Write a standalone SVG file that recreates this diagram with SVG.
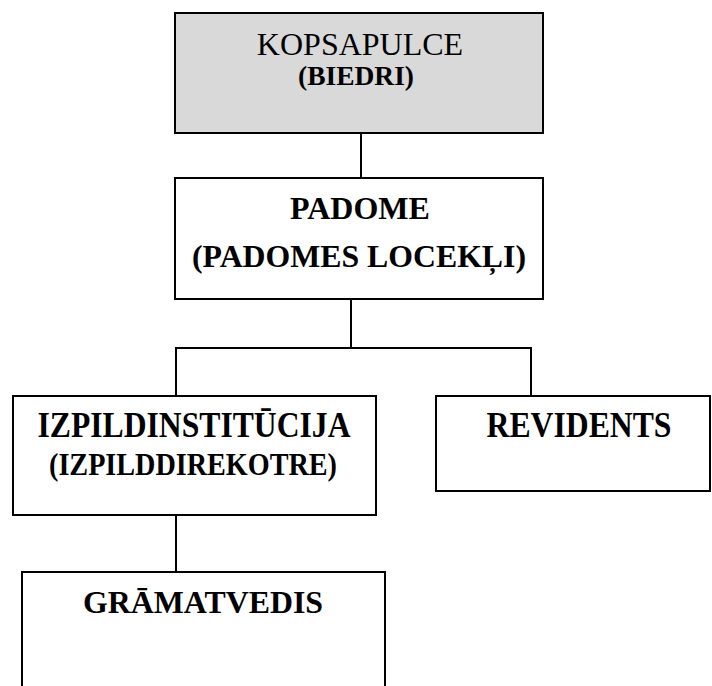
<svg xmlns="http://www.w3.org/2000/svg" width="712" height="686" viewBox="0 0 712 686">
<style>
.box{fill:#ffffff;stroke:#000000;stroke-width:2}
.gray{fill:#d9d9d9}
text{font-family:'Liberation Serif','Times New Roman','DejaVu Serif',serif;fill:#000000;text-anchor:middle}
.b{font-weight:bold}
.c{fill:none;stroke:#000000;stroke-width:2}
</style>
<rect width="712" height="686" fill="#ffffff"/>
<g id="connectors">
<line class="c" x1="361" y1="133" x2="361" y2="178"/>
<polyline class="c" points="351,299 351,348"/>
<polyline class="c" points="176,396 176,348 531,348 531,396"/>
<line class="c" x1="176" y1="515" x2="176" y2="572"/>
</g>
<g id="kopsapulce">
<rect class="box gray" x="175" y="13" width="368" height="120"/>
<text x="360" y="55" font-size="32">KOPSAPULCE</text>
<text class="b" x="356" y="85" font-size="27" textLength="116" lengthAdjust="spacingAndGlyphs">(BIEDRI)</text>
</g>
<g id="padome">
<rect class="box" x="175" y="178" width="368" height="121"/>
<text class="b" x="360" y="219" font-size="32">PADOME</text>
<text class="b" x="359" y="267" font-size="31" textLength="334" lengthAdjust="spacingAndGlyphs">(PADOMES LOCEKĻI)</text>
</g>
<g id="izpildinstitucija">
<rect class="box" x="13" y="396" width="363" height="119"/>
<text class="b" x="194" y="437" font-size="35" textLength="313" lengthAdjust="spacingAndGlyphs">IZPILDINSTITŪCIJA</text>
<text class="b" x="193" y="475" font-size="31" textLength="288" lengthAdjust="spacingAndGlyphs">(IZPILDDIREKOTRE)</text>
</g>
<g id="revidents">
<rect class="box" x="436" y="396" width="274" height="95"/>
<text class="b" x="579" y="437" font-size="35" textLength="185" lengthAdjust="spacingAndGlyphs">REVIDENTS</text>
</g>
<g id="gramatvedis">
<rect class="box" x="22" y="572" width="363" height="120"/>
<text class="b" x="203" y="613" font-size="32" textLength="240" lengthAdjust="spacingAndGlyphs">GRĀMATVEDIS</text>
</g>
</svg>
